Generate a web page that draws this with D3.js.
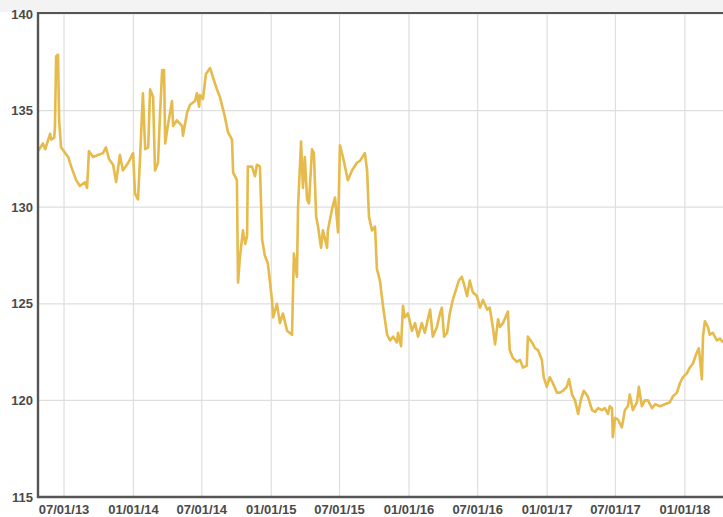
<!DOCTYPE html>
<html>
<head>
<meta charset="utf-8">
<script src="https://cdnjs.cloudflare.com/ajax/libs/d3/7.8.5/d3.min.js"></script>
<style>
  html, body { margin: 0; padding: 0; background: #fff; overflow: hidden; }
  svg { display: block; }
</style>
</head>
<body>
<svg id="chart" width="723" height="517"></svg>
<script>
const dates = [
  '2013-04-23','2013-05-06','2013-05-12','2013-05-25','2013-05-28','2013-06-05','2013-06-07','2013-06-10','2013-06-15','2013-06-18',
  '2013-06-23','2013-07-04','2013-07-12','2013-07-20','2013-08-02','2013-08-12','2013-08-26','2013-08-31','2013-09-05','2013-09-16',
  '2013-09-29','2013-10-12','2013-10-20','2013-10-28','2013-11-08','2013-11-16','2013-11-26','2013-12-04','2013-12-18','2013-12-31',
  '2014-01-05','2014-01-13','2014-01-18','2014-01-26','2014-02-01','2014-02-09','2014-02-14','2014-02-22','2014-02-27','2014-03-07',
  '2014-03-12','2014-03-18','2014-03-23','2014-03-26','2014-04-02','2014-04-13','2014-04-16','2014-04-26','2014-05-10','2014-05-12',
  '2014-05-23','2014-05-31','2014-06-13','2014-06-18','2014-06-24','2014-06-26','2014-07-04','2014-07-12','2014-07-23','2014-07-31',
  '2014-08-10','2014-08-18','2014-08-31','2014-09-08','2014-09-19','2014-09-22','2014-10-02','2014-10-05','2014-10-10','2014-10-18',
  '2014-10-24','2014-10-29','2014-10-31','2014-11-11','2014-11-19','2014-11-24','2014-12-02','2014-12-08','2014-12-15','2014-12-23',
  '2015-01-03','2015-01-06','2015-01-16','2015-01-24','2015-02-01','2015-02-12','2015-02-25','2015-03-02','2015-03-10','2015-03-13',
  '2015-03-21','2015-03-26','2015-03-31','2015-04-06','2015-04-11','2015-04-19','2015-04-24','2015-04-30','2015-05-05','2015-05-13',
  '2015-05-18','2015-05-29','2015-05-31','2015-06-11','2015-06-19','2015-06-27','2015-07-02','2015-07-10','2015-07-23','2015-08-03',
  '2015-08-16','2015-08-24','2015-09-06','2015-09-12','2015-09-17','2015-09-25','2015-10-03','2015-10-08','2015-10-16','2015-10-24',
  '2015-11-04','2015-11-12','2015-11-20','2015-11-30','2015-12-03','2015-12-11','2015-12-16','2015-12-21','2015-12-29','2016-01-09',
  '2016-01-17','2016-01-25','2016-02-04','2016-02-12','2016-02-20','2016-02-26','2016-03-04','2016-03-15','2016-03-23','2016-03-28',
  '2016-04-03','2016-04-11','2016-04-18','2016-04-26','2016-05-04','2016-05-12','2016-05-20','2016-05-26','2016-06-03','2016-06-10',
  '2016-06-18','2016-06-29','2016-07-07','2016-07-15','2016-07-26','2016-08-02','2016-08-10','2016-08-16','2016-08-24','2016-08-29',
  '2016-09-06','2016-09-19','2016-09-24','2016-10-02','2016-10-13','2016-10-21','2016-10-29','2016-11-08','2016-11-11','2016-11-22',
  '2016-11-30','2016-12-08','2016-12-18','2016-12-23','2016-12-31','2017-01-08','2017-01-16','2017-01-27','2017-02-04','2017-02-12',
  '2017-02-22','2017-02-28','2017-03-08','2017-03-16','2017-03-24','2017-03-31','2017-04-08','2017-04-19','2017-04-30','2017-05-08',
  '2017-05-16','2017-05-26','2017-06-03','2017-06-11','2017-06-16','2017-06-22','2017-06-24','2017-06-30','2017-07-08','2017-07-18',
  '2017-07-26','2017-08-03','2017-08-08','2017-08-16','2017-08-27','2017-09-01','2017-09-09','2017-09-17','2017-09-25','2017-10-06',
  '2017-10-14','2017-10-27','2017-11-09','2017-11-22','2017-11-30','2017-12-11','2017-12-19','2017-12-27','2018-01-06','2018-01-14',
  '2018-01-22','2018-02-02','2018-02-07','2018-02-15','2018-02-18','2018-02-23','2018-03-03','2018-03-08','2018-03-16','2018-03-27',
  '2018-04-04','2018-04-12'
];

const values = [
  132.9,133.3,133.0,133.8,133.5,133.6,134.2,137.8,137.9,134.5,
  133.1,132.8,132.6,132.1,131.4,131.1,131.3,131.0,132.9,132.6,
  132.7,132.8,133.1,132.5,132.2,131.3,132.7,131.9,132.3,132.8,
  130.7,130.4,132.4,135.9,133.0,133.1,136.1,135.7,131.9,132.3,
  134.7,137.1,137.1,133.3,134.2,135.5,134.2,134.5,134.2,133.7,
  134.9,135.3,135.5,135.9,135.2,135.8,135.6,136.9,137.2,136.7,
  136.1,135.7,134.7,133.9,133.5,131.8,131.4,126.1,127.4,128.8,
  128.1,128.5,132.1,132.1,131.6,132.2,132.1,128.3,127.5,127.1,
  125.2,124.3,125.0,124.0,124.5,123.6,123.4,127.6,126.4,130.0,
  133.4,131.0,132.6,130.4,130.2,133.0,132.8,129.5,129.0,127.9,
  128.8,127.9,128.8,129.9,130.5,128.7,133.2,132.6,131.4,131.9,
  132.3,132.4,132.8,131.9,129.5,128.8,129.0,126.8,126.2,124.9,
  123.4,123.1,123.3,123.0,123.5,122.8,124.9,124.3,124.5,123.6,
  124.0,123.3,124.0,123.5,124.2,124.7,123.3,123.8,124.5,124.8,
  123.3,123.5,124.5,125.2,125.7,126.2,126.4,126.0,125.4,126.2,
  125.6,125.4,124.8,125.2,124.7,124.8,123.8,122.9,124.2,123.8,
  124.0,124.6,122.6,122.2,122.0,122.1,121.7,121.8,123.3,123.0,
  122.7,122.6,122.1,121.2,120.7,121.2,120.9,120.4,120.4,120.5,
  120.7,121.1,120.3,120.0,119.3,120.0,120.5,120.2,119.5,119.4,
  119.6,119.5,119.6,119.3,119.7,119.6,118.1,119.1,119.0,118.6,
  119.5,119.7,120.3,119.5,119.9,120.7,119.7,120.0,120.0,119.6,
  119.8,119.7,119.8,119.9,120.2,120.4,120.9,121.2,121.4,121.7,
  121.9,122.5,122.7,121.1,123.3,124.1,123.8,123.4,123.5,123.1,
  123.2,123.0
];

const yTicks = [115, 120, 125, 130, 135, 140];
const xTicks = ['2013-07-01','2014-01-01','2014-07-01','2015-01-01','2015-07-01',
                '2016-01-01','2016-07-01','2017-01-01','2017-07-01','2018-01-01'];
const xDomain = ['2013-04-23', '2018-04-12'];

const parse = d3.timeParse('%Y-%m-%d');
const fmt = d3.timeFormat('%m/%d/%y');
const data = dates.map((d, i) => ({ date: parse(d), value: values[i] }));

const width = 723;
const height = 517;
const margin = { top: 14, right: 0, bottom: 20, left: 38 };

const svg = d3.select('#chart');

// light strip above the frame
svg.append('rect')
  .attr('x', 0).attr('y', 0)
  .attr('width', width).attr('height', 12)
  .attr('fill', '#f3f3f3');

const x = d3.scaleTime()
  .domain(xDomain.map(parse))
  .range([margin.left, width - margin.right]);

const y = d3.scaleLinear()
  .domain([115, 140])
  .range([height - margin.bottom, margin.top]);

// grid
svg.append('g')
  .selectAll('line')
  .data(xTicks.map(parse))
  .join('line')
  .attr('x1', d => x(d)).attr('x2', d => x(d))
  .attr('y1', margin.top).attr('y2', height - margin.bottom)
  .attr('stroke', '#dedede')
  .attr('stroke-width', 1.2);

svg.append('g')
  .selectAll('line')
  .data(yTicks)
  .join('line')
  .attr('x1', margin.left).attr('x2', width)
  .attr('y1', d => y(d)).attr('y2', d => y(d))
  .attr('stroke', '#dedede')
  .attr('stroke-width', 1.2);

// the series
const line = d3.line()
  .x(d => x(d.date))
  .y(d => y(d.value));

svg.append('path')
  .datum(data)
  .attr('fill', 'none')
  .attr('stroke', '#e6ba4b')
  .attr('stroke-width', 2.6)
  .attr('stroke-linejoin', 'round')
  .attr('d', line);

// frame: top, left, bottom
svg.append('line')
  .attr('x1', margin.left).attr('x2', width)
  .attr('y1', 13).attr('y2', 13)
  .attr('stroke', '#555').attr('stroke-width', 2);

svg.append('line')
  .attr('x1', margin.left).attr('x2', margin.left)
  .attr('y1', 12).attr('y2', height - margin.bottom + 1)
  .attr('stroke', '#555').attr('stroke-width', 2.4);

svg.append('line')
  .attr('x1', margin.left - 1).attr('x2', width)
  .attr('y1', height - margin.bottom).attr('y2', height - margin.bottom)
  .attr('stroke', '#555').attr('stroke-width', 2.4);

// tick labels
const labelStyle = sel => sel
  .attr('font-family', '"Liberation Sans", Arial, sans-serif')
  .attr('font-size', 13)
  .attr('font-weight', 'bold')
  .attr('fill', '#4a4a4a');

svg.append('g')
  .selectAll('text')
  .data(yTicks)
  .join('text')
  .attr('x', margin.left - 5)
  .attr('y', d => y(d))
  .attr('dy', '0.35em')
  .attr('text-anchor', 'end')
  .text(d => d)
  .call(labelStyle);

svg.append('g')
  .selectAll('text')
  .data(xTicks.map(parse))
  .join('text')
  .attr('x', d => x(d))
  .attr('y', height - 3)
  .attr('text-anchor', 'middle')
  .text(d => fmt(d))
  .call(labelStyle);
</script>
</body>
</html>
